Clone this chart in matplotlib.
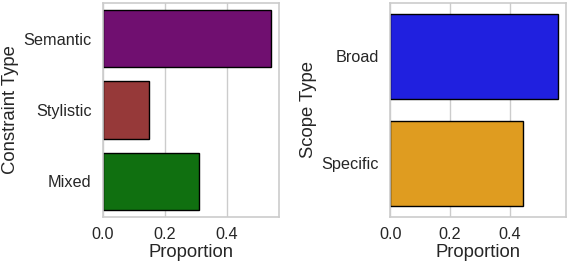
import matplotlib
matplotlib.use("Agg")
import matplotlib.pyplot as plt

plt.rcParams['font.family'] = ['Liberation Sans', 'DejaVu Sans']

constraint_types = ["Semantic", "Stylistic", "Mixed"]
constraint_props = [0.542, 0.150, 0.312]
constraint_colors = ["#700F70", "#963939", "#107010"]

scope_types = ["Broad", "Specific"]
scope_props = [0.561, 0.444]
scope_colors = ["#2020DF", "#DF9C20"]

xticks = [0.0, 0.2, 0.4]

fig = plt.figure(figsize=(5.68, 2.64), dpi=100)
ax1 = fig.add_axes([0.181, 0.178, 0.310, 0.811])
ax2 = fig.add_axes([0.687, 0.178, 0.310, 0.811])

def draw(ax, cats, vals, cols, ylabel):
    y = list(range(len(cats)))
    ax.barh(y, vals, height=0.8, color=cols, edgecolor="black", linewidth=1.0, zorder=2)
    ax.set_yticks(y)
    ax.set_yticklabels(cats, fontsize=11.7, color="#262626")
    ax.set_ylim(len(cats) - 0.5, -0.5)
    ax.set_xlim(0, max(vals) * 1.05)
    ax.set_xticks(xticks)
    ax.set_xticklabels([f"{t:.1f}" for t in xticks], fontsize=11.7, color="#262626")
    ax.set_xlabel("Proportion", fontsize=13.3, color="#262626", labelpad=1)
    ax.set_ylabel(ylabel, fontsize=13.3, color="#262626", labelpad=3)
    ax.grid(axis="x", color="#cccccc", linewidth=1.0, zorder=0)
    ax.set_axisbelow(True)
    ax.tick_params(axis="y", length=0, pad=8)
    ax.tick_params(axis="x", length=0, pad=7.5)
    for s in ax.spines.values():
        s.set_color("#cccccc")
        s.set_linewidth(1.2)

draw(ax1, constraint_types, constraint_props, constraint_colors, "Constraint Type")
draw(ax2, scope_types, scope_props, scope_colors, "Scope Type")

fig.savefig("out.png", dpi=100)
